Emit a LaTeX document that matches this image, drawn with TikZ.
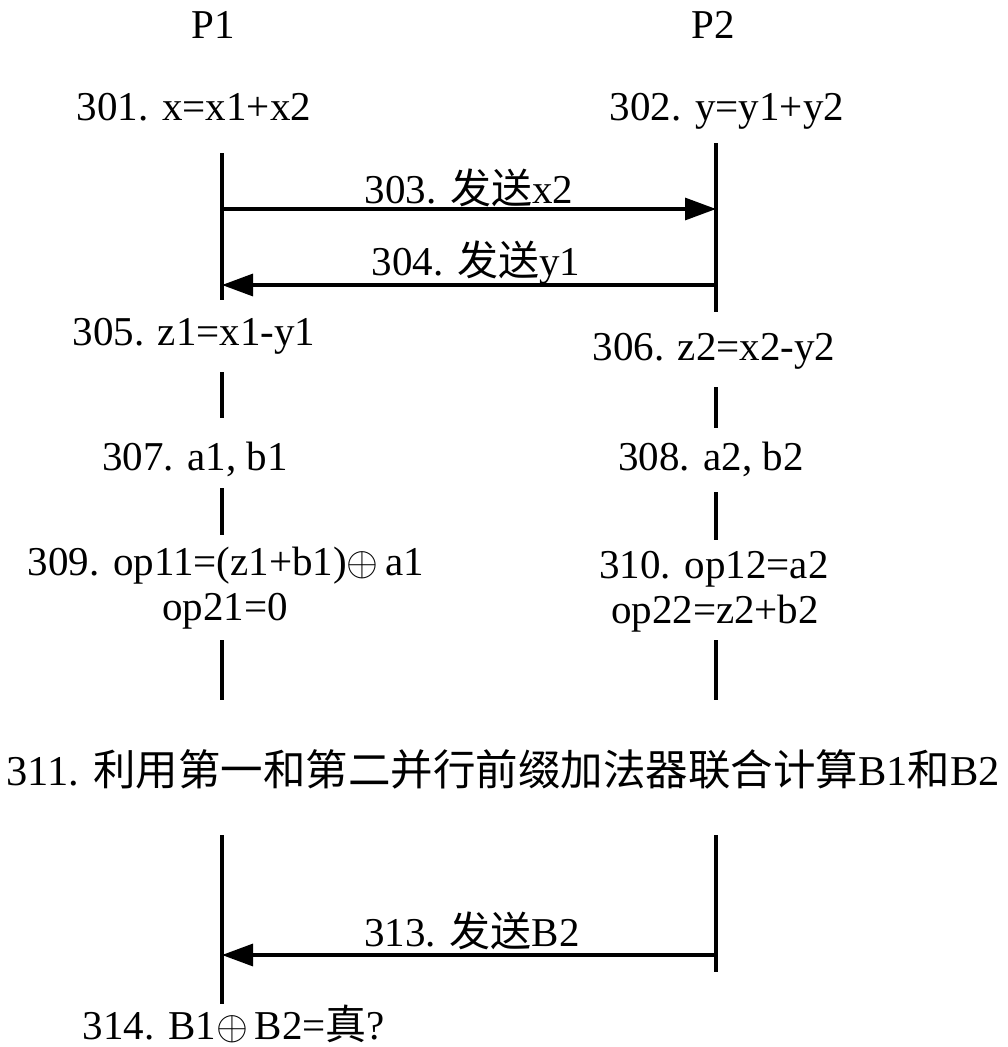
\documentclass[tikz,border=0pt]{standalone}
\usepackage{fix-cm}
\usepackage{fontspec}
\setmainfont{Liberation Serif}
\newfontfamily\cjk{Noto Sans CJK SC}
\usetikzlibrary{arrows.meta}

\begin{document}
\begin{tikzpicture}[x=1pt,y=-1pt,
  lbl/.style={anchor=base,inner sep=0pt,font=\fontsize{41}{46}\selectfont},
  life/.style={line width=3.2pt},
  msg/.style={line width=3.2pt,-{Triangle[length=31pt,width=22pt]}}]
  \useasboundingbox (0,0) rectangle (1007,1047);
  % parties
  \node[lbl] (p1) at (213,38) {P1};
  \node[lbl] (p2) at (713,38) {P2};
  \node[lbl] (s301) at (194,120) {301. x=x1+x2};
  \node[lbl] (s302) at (727,120) {302. y=y1+y2};
  % lifeline ends
  \coordinate (a1) at (222,153);  \coordinate (a2) at (222,300);
  \coordinate (b1) at (716,143);  \coordinate (b2) at (716,312);
  \coordinate (a3) at (222,372);  \coordinate (a4) at (222,418);
  \coordinate (b3) at (716,387);  \coordinate (b4) at (716,428);
  \coordinate (a5) at (222,488);  \coordinate (a6) at (222,535);
  \coordinate (b5) at (716,492);  \coordinate (b6) at (716,540);
  \coordinate (a7) at (222,640);  \coordinate (a8) at (222,700);
  \coordinate (b7) at (716,640);  \coordinate (b8) at (716,700);
  \coordinate (a9) at (222,835);  \coordinate (a10) at (222,1004);
  \coordinate (b9) at (716,835);  \coordinate (b10) at (716,972);
  \draw[life] (a1) -- (a2);  \draw[life] (b1) -- (b2);
  \draw[life] (a3) -- (a4);  \draw[life] (b3) -- (b4);
  \draw[life] (a5) -- (a6);  \draw[life] (b5) -- (b6);
  \draw[life] (a7) -- (a8);  \draw[life] (b7) -- (b8);
  \draw[life] (a9) -- (a10); \draw[life] (b9) -- (b10);
  % messages
  \coordinate (m303a) at (222,209); \coordinate (m303b) at (716,209);
  \coordinate (m304a) at (716,285); \coordinate (m304b) at (222,285);
  \coordinate (m313a) at (716,955); \coordinate (m313b) at (222,955);
  \draw[msg] (m303a) -- (m303b) node[lbl,midway,yshift=6pt] (t303) {303. {\cjk 发送}x2};
  \draw[msg] (m304a) -- (m304b) node[lbl,midway,xshift=7pt,yshift=10pt] (t304) {304. {\cjk 发送}y1};
  \draw[msg] (m313a) -- (m313b) node[lbl,midway,xshift=3pt,yshift=9pt] (t313) {313. {\cjk 发送}B2};
  % local steps
  \node[lbl] (s305) at (194,345) {305. z1=x1-y1};
  \node[lbl] (s306) at (714,360) {306. z2=x2-y2};
  \node[lbl] (s307) at (195,470) {307. a1, b1};
  \node[lbl] (s308) at (711,470) {308. a2, b2};
  \node[lbl] (s309) at (226,575) {309. op11=(z1+b1)$\oplus$\,a1};
  \node[lbl] (s309b) at (225,620) {op21=0};
  \node[lbl] (s310) at (714,578) {310. op12=a2};
  \node[lbl] (s310b) at (715,623) {op22=z2+b2};
  \node[lbl,font=\fontsize{42.5}{48}\selectfont] (s311) at (503,785) {311. {\cjk 利用第一和第二并行前缀加法器联合计算}B1{\cjk 和}B2};
  \node[lbl] (s314) at (234,1039) {314. B1$\oplus$\,B2={\cjk 真}?};
\end{tikzpicture}
\end{document}
